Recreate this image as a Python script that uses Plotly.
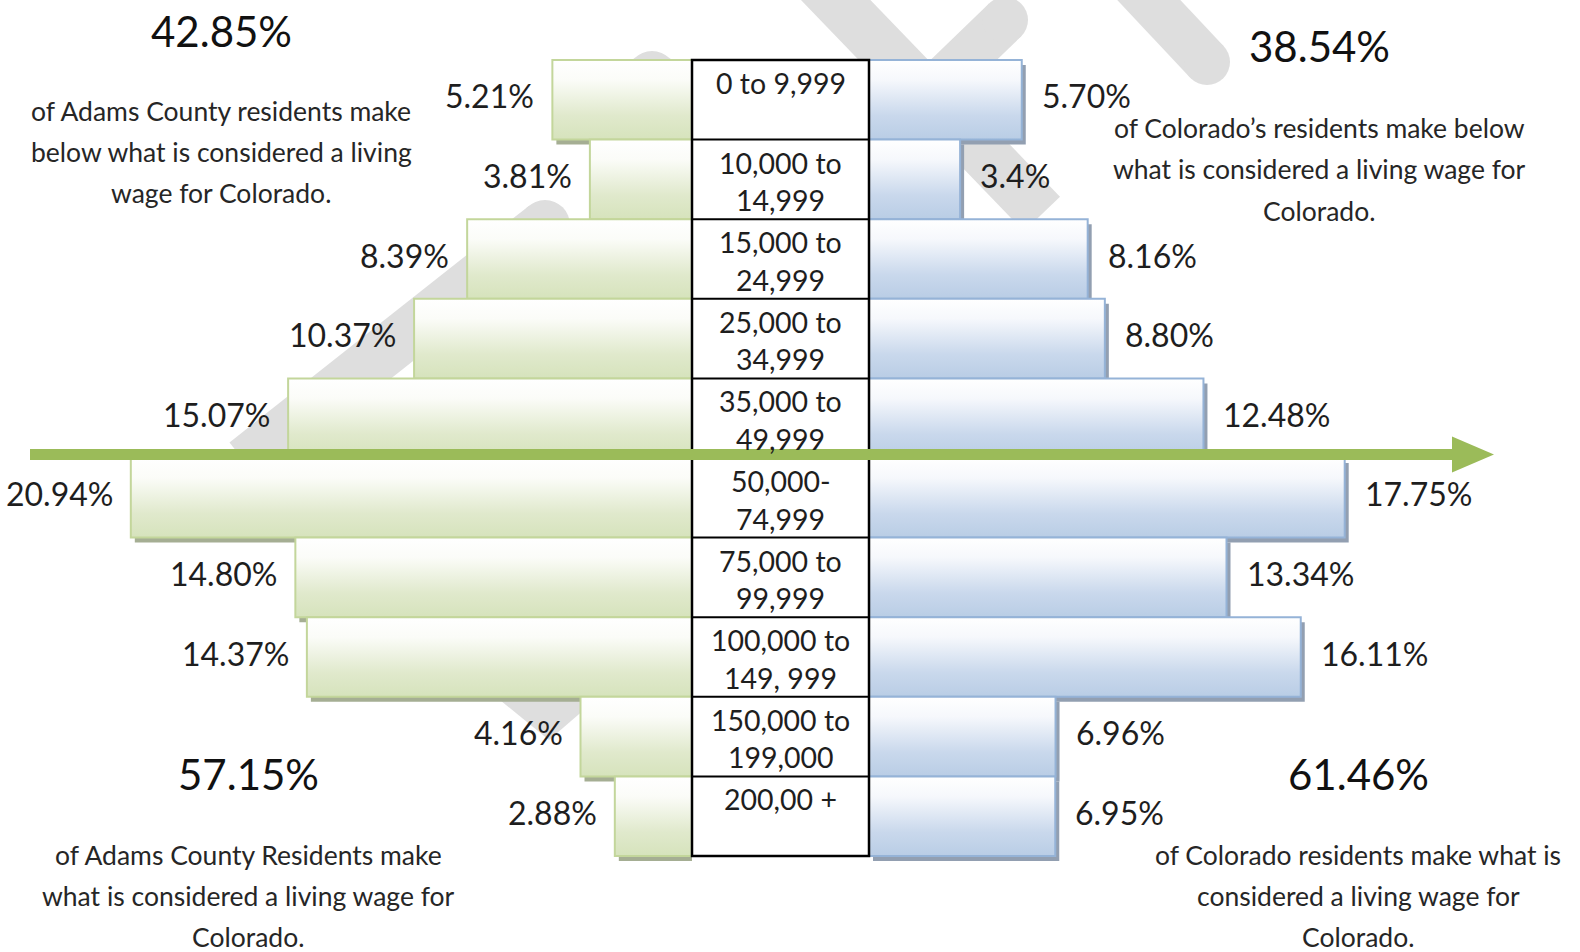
import plotly.graph_objects as go

# ---- data -------------------------------------------------------------
income_brackets = [
    "0 to 9,999",
    "10,000 to\n14,999",
    "15,000 to\n24,999",
    "25,000 to\n34,999",
    "35,000 to\n49,999",
    "50,000-\n74,999",
    "75,000 to\n99,999",
    "100,000 to\n149, 999",
    "150,000 to\n199,000",
    "200,00 +",
]
adams_pct = [5.21, 3.81, 8.39, 10.37, 15.07, 20.94, 14.80, 14.37, 4.16, 2.88]
colorado_pct = [5.70, 3.4, 8.16, 8.80, 12.48, 17.75, 13.34, 16.11, 6.96, 6.95]
adams_labels = ["5.21%", "3.81%", "8.39%", "10.37%", "15.07%",
                "20.94%", "14.80%", "14.37%", "4.16%", "2.88%"]
colorado_labels = ["5.70%", "3.4%", "8.16%", "8.80%", "12.48%",
                   "17.75%", "13.34%", "16.11%", "6.96%", "6.95%"]
living_wage_row = 5  # first bracket at or above the living wage

adams_below = round(sum(adams_pct[:living_wage_row]), 2)
colorado_below = round(sum(colorado_pct[:living_wage_row]), 2)
adams_above = round(100 - adams_below, 2)
colorado_above = round(100 - colorado_below, 2)

# ---- geometry / styling ----------------------------------------------
W, H = 1580, 952
PX_PER_PCT = 26.8
TABLE_L, TABLE_R = 692, 869
ROW_TOP, ROW_H = 60, 79.6
N = len(income_brackets)

FONT = "Lato"
TEXT = "#1e1e1e"
GREEN_LINE, GREEN_SHADOW = "#c3d69b", "#a5ae93"
BLUE_LINE, BLUE_SHADOW = "#95b3d7", "#929fb1"
GREEN_SCALE = [[0, "#ffffff"], [0.25, "#fbfcf8"], [0.7, "#e0e9cc"], [1, "#d6e3bc"]]
BLUE_SCALE = [[0, "#ffffff"], [0.25, "#f6f8fc"], [0.7, "#c9d8ec"], [1, "#b9cde5"]]
WATERMARK = "#dedede"


def X(px):
    return px / W


def Y(py):
    return 1 - py / H


fig = go.Figure()

shadow_dx = 4 / PX_PER_PCT
shadow_dy = 5 / ROW_H


def bar_outline(v, i, dx=0.0, dy=0.0):
    xs = [dx, v + dx, v + dx, dx, dx]
    ys = [i - 0.5 + dy, i - 0.5 + dy, i + 0.5 + dy, i + 0.5 + dy, i - 0.5 + dy]
    return xs, ys


# drop shadows first, so neighbouring bars sit on top of them
for vals, xa, sdx, col in [(adams_pct, "x", -shadow_dx, GREEN_SHADOW),
                           (colorado_pct, "x2", shadow_dx, BLUE_SHADOW)]:
    for i, v in enumerate(vals):
        xs, ys = bar_outline(v, i, sdx, shadow_dy)
        fig.add_trace(go.Scatter(
            x=xs, y=ys, xaxis=xa, yaxis="y", mode="lines", fill="toself",
            fillcolor=col, line=dict(width=0, color=col),
            hoverinfo="skip", showlegend=False))

# bars: white at the top edge fading to the series colour at the bottom
for vals, xa, lc, cs in [(adams_pct, "x", GREEN_LINE, GREEN_SCALE),
                         (colorado_pct, "x2", BLUE_LINE, BLUE_SCALE)]:
    for i, v in enumerate(vals):
        xs, ys = bar_outline(v, i)
        fig.add_trace(go.Scatter(
            x=xs, y=ys, xaxis=xa, yaxis="y", mode="lines", fill="toself",
            fillgradient=dict(type="vertical", colorscale=cs,
                              start=i - 0.5, stop=i + 0.5),
            line=dict(width=2, color=lc),
            hoverinfo="skip", showlegend=False))

shapes = []

# faint background watermark strokes
for (x0, y0, x1, y1, w) in [(245, 462, 545, 225, 50),
                            (652, 76, 900, 330, 50),
                            (800, -37, 1042, 214, 50),
                            (1005, 20, 860, 160, 46),
                            (1130, -20, 1207, 62, 46)]:
    shapes.append(dict(type="line", xref="paper", yref="paper",
                       x0=X(x0), y0=Y(y0), x1=X(x1), y1=Y(y1),
                       line=dict(color=WATERMARK, width=w), layer="below"))
for (cx, cy, r) in [(545, 225, 25), (652, 76, 25), (1005, 20, 23), (1207, 62, 23)]:
    shapes.append(dict(type="circle", xref="paper", yref="paper",
                       x0=X(cx - r), x1=X(cx + r), y0=Y(cy + r), y1=Y(cy - r),
                       fillcolor=WATERMARK, line=dict(width=0), layer="below"))
shapes.append(dict(type="path", xref="paper", yref="paper",
                   path=f"M {X(495)} {Y(696)} L {X(600)} {Y(696)} L {X(549)} {Y(740)} Z",
                   fillcolor=WATERMARK, line=dict(width=0), layer="below"))

# centre table with the income brackets
shapes.append(dict(type="rect", xref="paper", yref="y",
                   x0=X(TABLE_L), x1=X(TABLE_R), y0=-0.5, y1=N - 0.5,
                   fillcolor="white", line=dict(color="black", width=2.5),
                   layer="above"))
for i in range(N - 1):
    shapes.append(dict(type="line", xref="paper", yref="y",
                       x0=X(TABLE_L), x1=X(TABLE_R), y0=i + 0.5, y1=i + 0.5,
                       line=dict(color="black", width=2), layer="above"))

# living-wage arrow
arrow_y_px = ROW_TOP + living_wage_row * ROW_H - 3.5
shapes.append(dict(type="line", xref="paper", yref="paper",
                   x0=X(30), x1=X(1458), y0=Y(arrow_y_px), y1=Y(arrow_y_px),
                   line=dict(color="#9bbb59", width=11), layer="above"))
shapes.append(dict(type="path", xref="paper", yref="paper",
                   path=(f"M {X(1452)} {Y(arrow_y_px - 18)} L {X(1494)} {Y(arrow_y_px)} "
                         f"L {X(1452)} {Y(arrow_y_px + 18)} Z"),
                   fillcolor="#9bbb59", line=dict(width=0), layer="above"))

annotations = []

# value labels beside each bar
for i, (v, lab) in enumerate(zip(adams_pct, adams_labels)):
    annotations.append(dict(x=v, y=i, xref="x", yref="y", text=lab,
                            showarrow=False, xanchor="right", yanchor="middle",
                            xshift=-16, yshift=4,
                            font=dict(family=FONT, size=32, color=TEXT)))
for i, (v, lab) in enumerate(zip(colorado_pct, colorado_labels)):
    annotations.append(dict(x=v, y=i, xref="x2", yref="y", text=lab,
                            showarrow=False, xanchor="left", yanchor="middle",
                            xshift=18, yshift=4,
                            font=dict(family=FONT, size=32, color=TEXT)))

# bracket names inside the table
for i, name in enumerate(income_brackets):
    for k, line in enumerate(name.split("\n")):
        annotations.append(dict(x=X((TABLE_L + TABLE_R) / 2), y=i - 0.5,
                                xref="paper", yref="y", text=line,
                                showarrow=False, xanchor="center", yanchor="middle",
                                yshift=-(23 + 37.5 * k),
                                font=dict(family=FONT, size=28.5, color=TEXT)))


def text_block(cx, cy_big, big, cy_lines, lines):
    annotations.append(dict(x=X(cx), y=Y(cy_big), xref="paper", yref="paper",
                            text=big, showarrow=False, xanchor="center",
                            yanchor="middle",
                            font=dict(family=FONT, size=42, color="#111111")))
    for cy, ln in zip(cy_lines, lines):
        annotations.append(dict(x=X(cx), y=Y(cy), xref="paper", yref="paper",
                                text=ln, showarrow=False, xanchor="center",
                                yanchor="middle",
                                font=dict(family=FONT, size=26.5, color="#262626")))


text_block(221, 31, f"{adams_below:.2f}%", [111, 152, 193],
           ["of Adams County residents make",
            "below what is considered a living",
            "wage for Colorado."])
text_block(1319, 46, f"{colorado_below:.2f}%", [128, 169, 211],
           ["of Colorado\u2019s residents make below",
            "what is considered a living wage for",
            "Colorado."])
text_block(248, 774, f"{adams_above:.2f}%", [855, 896, 937],
           ["of Adams County Residents make",
            "what is considered a living wage for",
            "Colorado."])
text_block(1358, 774, f"{colorado_above:.2f}%", [855, 896, 937],
           ["of Colorado residents make what is",
            "considered a living wage for",
            "Colorado."])

axis_common = dict(visible=False, showgrid=False, zeroline=False, fixedrange=True)
fig.update_layout(
    width=W, height=H,
    margin=dict(l=0, r=0, t=0, b=0, pad=0),
    paper_bgcolor="white", plot_bgcolor="rgba(0,0,0,0)",
    showlegend=False,
    xaxis=dict(domain=[0, X(TABLE_L)], range=[TABLE_L / PX_PER_PCT, 0],
               anchor="y", **axis_common),
    xaxis2=dict(domain=[X(TABLE_R), 1], range=[0, (W - TABLE_R) / PX_PER_PCT],
                anchor="y", **axis_common),
    yaxis=dict(domain=[0, 1],
               range=[(H - ROW_TOP) / ROW_H - 0.5, -ROW_TOP / ROW_H - 0.5],
               anchor="x", **axis_common),
    shapes=shapes,
    annotations=annotations,
)

fig.write_html("out.html")
